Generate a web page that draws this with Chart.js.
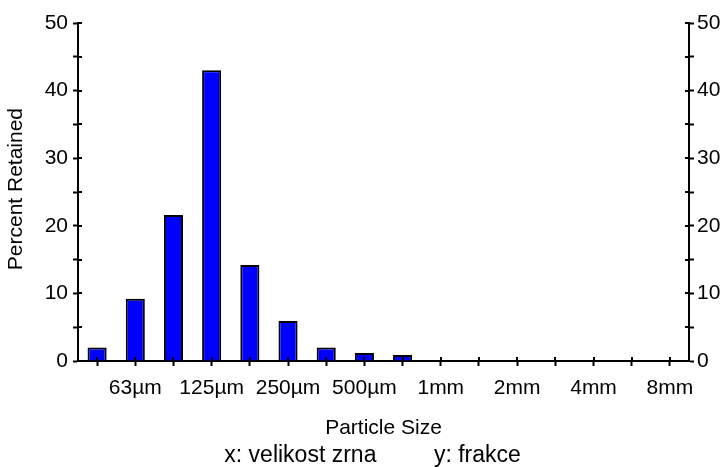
<!DOCTYPE html>
<html>
<head>
<meta charset="utf-8">
<script src="https://cdn.jsdelivr.net/npm/chart.js@4"></script>
<style>
  html, body { margin: 0; padding: 0; background: #fff; }
  #wrap { width: 726px; height: 467px; }
</style>
</head>
<body>
<div id="wrap"><canvas id="psd" width="726" height="467"></canvas></div>
<script>
// sieve classes, labelled on every other one
const sizeLabels = ['', '63\u00b5m', '', '125\u00b5m', '', '250\u00b5m', '', '500\u00b5m', '', '1mm', '', '2mm', '', '4mm', '', '8mm'];
const percentRetained = [2, 9.2, 21.6, 43, 14.2, 5.9, 2, 1.2, 0.9, 0, 0, 0, 0, 0, 0, 0];
const yTicks = [0, 10, 20, 30, 40, 50];

const tickFont = { family: "'Liberation Sans', Arial, sans-serif", size: 21 };
const titleFont = { family: "'Liberation Sans', Arial, sans-serif", size: 21 };

// ticks that cross the axis line: draw the inner half
const innerTicks = {
    id: 'innerTicks',
    afterDraw(chart) {
        const ctx = chart.ctx;
        ctx.save();
        ctx.strokeStyle = '#000';
        ctx.lineWidth = 2;
        ctx.beginPath();
        Object.values(chart.scales).forEach(scale => {
            scale.ticks.forEach((t, i) => {
                const p = Math.round(scale.getPixelForTick(i));
                if (scale.id === 'x') {
                    ctx.moveTo(p, scale.top);
                    ctx.lineTo(p, scale.top - 4);
                } else if (scale.id === 'y') {
                    ctx.moveTo(scale.right, p);
                    ctx.lineTo(scale.right + 4, p);
                } else {
                    ctx.moveTo(scale.left, p);
                    ctx.lineTo(scale.left - 4, p);
                }
            });
        });
        ctx.stroke();
        ctx.restore();
    }
};

function yAxis(position, width) {
    return {
        position: position,
        min: 0,
        max: 50,
        ticks: {
            stepSize: 5,
            color: '#000',
            font: tickFont,
            padding: position === 'left' ? 5 : 3,
            callback: v => yTicks.includes(v) ? String(v) : ''
        },
        grid: { drawOnChartArea: false, tickLength: 5, tickColor: '#000', tickWidth: 2 },
        border: { color: '#000', width: 2 },
        title: position === 'left'
            ? { display: true, text: ' Percent Retained', color: '#000', font: titleFont, padding: { top: 4, bottom: 0 } }
            : { display: false },
        afterFit: s => { s.width = width; }
    };
}

new Chart(document.getElementById('psd'), {
    type: 'bar',
    data: {
        labels: sizeLabels,
        datasets: [{
            data: percentRetained,
            backgroundColor: '#0000ff',
            borderColor: '#000',
            borderWidth: 2,
            barPercentage: 0.5,
            categoryPercentage: 1
        }]
    },
    options: {
        responsive: false,
        animation: false,
        events: [],
        layout: { padding: { top: 23, left: 0, right: 0, bottom: 0 } },
        plugins: {
            legend: { display: false },
            tooltip: { enabled: false },
            title: {
                display: true,
                position: 'bottom',
                text: '   x: velikost zrna         y: frakce',
                color: '#000',
                font: { family: "'Liberation Sans', Arial, sans-serif", size: 23, weight: 'normal', lineHeight: 1 },
                padding: { top: 3, bottom: 0 }
            }
        },
        scales: {
            x: {
                ticks: { color: '#000', font: tickFont, autoSkip: false, maxRotation: 0, padding: 10 },
                grid: { offset: false, drawOnChartArea: false, tickLength: 5, tickColor: '#000', tickWidth: 2 },
                border: { color: '#000', width: 2 },
                title: { display: true, text: 'Particle Size', color: '#000', font: titleFont, padding: { top: 12, bottom: 0 } },
                afterFit: s => { s.height = 80; }
            },
            y: yAxis('left', 78),
            y2: yAxis('right', 37)
        }
    },
    plugins: [innerTicks]
});
</script>
</body>
</html>
